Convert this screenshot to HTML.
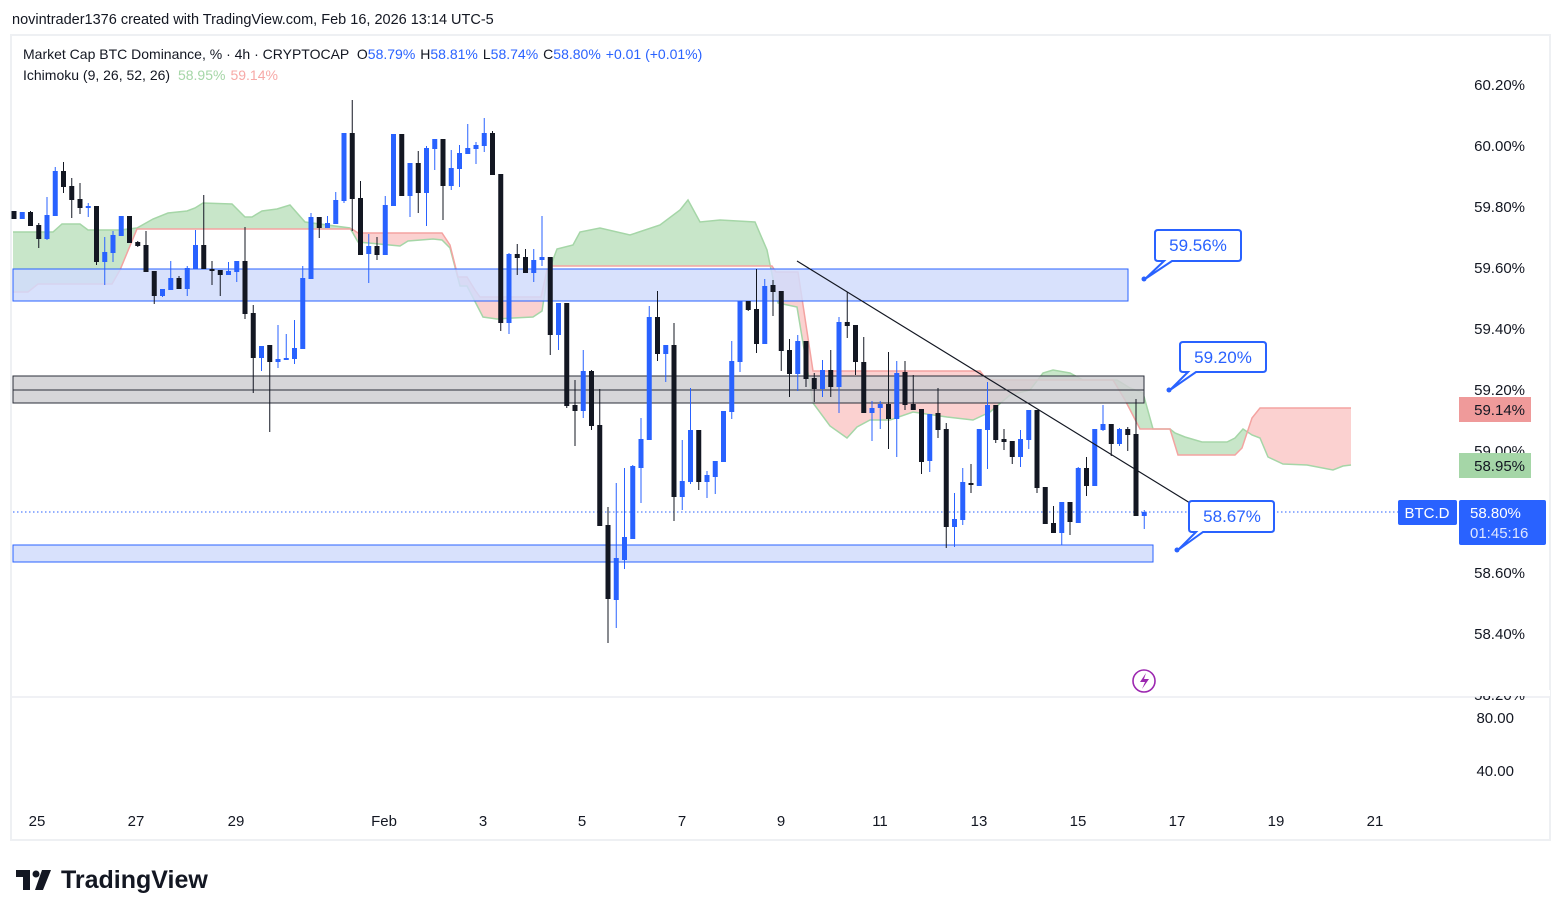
<!DOCTYPE html>
<html><head><meta charset="utf-8"><style>
html,body{margin:0;padding:0;background:#fff;}
svg{display:block;font-family:"Liberation Sans",sans-serif;}
</style></head><body>
<svg id="s" width="1563" height="916" viewBox="0 0 1563 916" xmlns="http://www.w3.org/2000/svg">
<defs>
<clipPath id="aboveB"><polygon id="cpB" points=""/></clipPath>
<clipPath id="aboveA"><polygon id="cpA" points=""/></clipPath>
</defs>
<rect x="0" y="0" width="1563" height="916" fill="#fff"/>
<text x="12" y="24" font-size="14.5" fill="#131722">novintrader1376 created with TradingView.com, Feb 16, 2026 13:14 UTC-5</text>
<rect x="11" y="35" width="1539" height="805" fill="none" stroke="#eef0f3" stroke-width="2"/>
<line x1="12" y1="697" x2="1549" y2="697" stroke="#e0e3eb" stroke-width="1"/>
<g id="cloud"></g>
<!-- zones -->
<rect x="13" y="269" width="1115" height="32" fill="#d1dcfb" fill-opacity="0.85" stroke="#2962ff" stroke-width="1"/>
<rect x="13" y="376" width="1131" height="27" fill="#cfcfd2" fill-opacity="0.85" stroke="#2a2e39" stroke-width="1"/>
<line x1="13" y1="390" x2="1144" y2="390" stroke="#2a2e39" stroke-width="1"/>
<rect x="13" y="545" width="1140" height="17" fill="#d1dcfb" fill-opacity="0.85" stroke="#2962ff" stroke-width="1"/>
<line x1="13" y1="512" x2="1457" y2="512" stroke="#2962ff" stroke-width="1" stroke-dasharray="1.5,2.5"/>
<g id="candles"></g>
<line x1="797" y1="261" x2="1190" y2="503" stroke="#131722" stroke-width="1.2"/>
<!-- callouts -->
<g fill="#fff" stroke="#2962ff" stroke-width="2">
<path d="M1158,230 H1238 Q1241,230 1241,233 V258 Q1241,261 1238,261 H1172 L1145,279 L1164,261 H1158 Q1155,261 1155,258 V233 Q1155,230 1158,230 Z"/>
<path d="M1183,342 H1263 Q1266,342 1266,345 V369 Q1266,372 1263,372 H1196 L1170,390 L1188,372 H1183 Q1180,372 1180,369 V345 Q1180,342 1183,342 Z"/>
<path d="M1192,501 H1271 Q1274,501 1274,504 V529 Q1274,532 1271,532 H1203 L1178,550 L1196,532 H1192 Q1189,532 1189,529 V504 Q1189,501 1192,501 Z"/>
</g>
<g fill="#2962ff"><circle cx="1144" cy="279" r="2.5"/><circle cx="1169" cy="390" r="2.5"/><circle cx="1177" cy="550" r="2.5"/></g>
<g font-size="17" fill="#2962ff" text-anchor="middle">
<text x="1198" y="251">59.56%</text><text x="1223" y="363">59.20%</text><text x="1232" y="522">58.67%</text>
</g>
<!-- legend -->
<text x="23" y="59" font-size="14" fill="#131722">Market Cap BTC Dominance, % · 4h · CRYPTOCAP <tspan dx="4">O</tspan><tspan fill="#2962ff">58.79%</tspan><tspan dx="5">H</tspan><tspan fill="#2962ff">58.81%</tspan><tspan dx="5">L</tspan><tspan fill="#2962ff">58.74%</tspan><tspan dx="5">C</tspan><tspan fill="#2962ff">58.80%</tspan><tspan dx="5" fill="#2962ff">+0.01 (+0.01%)</tspan></text>
<text x="23" y="80" font-size="14" fill="#131722">Ichimoku (9, 26, 52, 26) <tspan dx="4" fill="#a5d6a7">58.95%</tspan><tspan dx="5" fill="#f7a9a7">59.14%</tspan></text>
<!-- y axis -->
<g font-size="15" fill="#131722" text-anchor="end">
<text x="1525" y="90">60.20%</text><text x="1525" y="151">60.00%</text><text x="1525" y="212">59.80%</text>
<text x="1525" y="273">59.60%</text><text x="1525" y="334">59.40%</text><text x="1525" y="395">59.20%</text>
<text x="1525" y="456">59.00%</text><text x="1525" y="578">58.60%</text><text x="1525" y="639">58.40%</text>
<text x="1525" y="700">58.20%</text><text x="1514" y="723">80.00</text><text x="1514" y="776">40.00</text>
</g>
<rect x="1458" y="690" width="92" height="6" fill="#fff"/>
<rect x="1459" y="397" width="72" height="25" fill="#ef9a9a"/>
<text x="1525" y="415" font-size="15" fill="#131722" text-anchor="end">59.14%</text>
<rect x="1459" y="453" width="72" height="25" fill="#a5d6a7"/>
<text x="1525" y="471" font-size="15" fill="#131722" text-anchor="end">58.95%</text>
<rect x="1398" y="500" width="59" height="25" rx="2" fill="#2962ff"/>
<text x="1427" y="518" font-size="15" fill="#fff" text-anchor="middle">BTC.D</text>
<rect x="1459" y="500" width="87" height="45" rx="2" fill="#2962ff"/>
<text x="1470" y="518" font-size="15" fill="#fff">58.80%</text>
<text x="1470" y="538" font-size="15" fill="#dfe6ff">01:45:16</text>
<!-- x axis -->
<g font-size="15" fill="#131722" text-anchor="middle">
<text x="37" y="826">25</text><text x="136" y="826">27</text><text x="236" y="826">29</text>
<text x="384" y="826">Feb</text><text x="483" y="826">3</text><text x="582" y="826">5</text>
<text x="682" y="826">7</text><text x="781" y="826">9</text><text x="880" y="826">11</text>
<text x="979" y="826">13</text><text x="1078" y="826">15</text><text x="1177" y="826">17</text>
<text x="1276" y="826">19</text><text x="1375" y="826">21</text>
</g>
<circle cx="1144" cy="681" r="11" fill="none" stroke="#9c27b0" stroke-width="1.6"/>
<path d="M1146,673 L1140,682 H1145 L1142,689 L1149,679 H1144 Z" fill="#9c27b0"/>
<!-- logo -->
<g fill="#131722"><path d="M16,870 H30 V890 H23 V877 H16 Z"/><circle cx="36" cy="874" r="3.5"/><path d="M42,870 H51 L43,890 H35 Z"/></g>
<text x="61" y="888" font-size="25" font-weight="bold" fill="#131722">TradingView</text>
</svg>
<script>
var A=[[13,232],[53,232],[62,224],[80,224],[88,230],[120,230],[137,228],[153,219],[168,213],[187,211],[195,208],[203,203],[232,204],[245,217],[252,217],[262,211],[277,209],[290,205],[305,222],[350,228],[358,242],[400,246],[408,241],[433,239],[442,240],[450,248],[460,286],[467,286],[483,317],[497,319],[513,318],[533,317],[542,311],[548,273],[557,249],[573,245],[580,232],[600,228],[630,235],[660,225],[680,210],[688,200],[700,222],[720,220],[755,222],[767,250],[778,303],[797,307],[813,403],[830,426],[847,438],[857,427],[870,420],[890,420],[913,412],[947,417],[973,420],[990,412],[1010,395],[1030,390],[1043,373],[1053,370],[1070,373],[1083,380],[1117,380],[1130,388],[1143,393],[1153,429],[1170,429],[1175,433],[1185,437],[1202,442],[1227,442],[1235,438],[1243,429],[1252,435],[1260,438],[1268,457],[1283,464],[1307,465],[1333,470],[1343,466],[1351,465]];
var B=[[13,292],[28,292],[38,284],[112,284],[120,270],[137,229],[352,229],[358,233],[442,233],[450,245],[458,277],[467,277],[475,290],[480,297],[541,297],[547,270],[552,266],[772,266],[776,272],[798,272],[813,371],[980,371],[987,380],[1113,380],[1125,400],[1140,429],[1170,429],[1178,455],[1235,455],[1242,448],[1252,418],[1260,408],[1351,408]];
function pts(a){return a.map(function(p){return p[0]+','+p[1]}).join(' ');}
function above(a){return pts(a)+' 1351,0 13,0';}
function below(a){return pts(a)+' 1351,700 13,700';}
document.getElementById('cpB').setAttribute('points',above(B));
document.getElementById('cpA').setAttribute('points',above(A));
var c='';
c+='<polygon points="'+below(A)+'" fill="#c8e6c9" clip-path="url(#aboveB)"/>';
c+='<polygon points="'+below(B)+'" fill="#fbd1d0" clip-path="url(#aboveA)"/>';
c+='<polyline points="'+pts(A)+'" fill="none" stroke="#a5d6a7" stroke-width="1.5"/>';
c+='<polyline points="'+pts(B)+'" fill="none" stroke="#f4a3a1" stroke-width="1.5"/>';
document.getElementById('cloud').innerHTML=c;
var D="k 211,219,211,219|b 212,219,212,219|k 212,226,211,226|k 225,239,223,248|b 215,239,197,240|b 171,216,167,216|k 171,187,162,193|k 186,200,178,218|k 199,208,183,214|b 206,207,203,217|k 206,262,206,265|b 252,262,237,285|b 235,253,231,262|b 216,236,216,236|k 216,243,216,243|k 242,246,241,247|k 245,272,231,272|k 271,296,271,304|b 289,296,289,297|b 278,290,261,290|k 278,289,276,289|b 268,289,266,296|b 245,269,230,269|k 245,269,195,269|k 269,270,261,285|k 270,275,270,296|b 271,275,262,275|b 261,272,261,282|k 261,314,227,319|k 313,358,305,393|b 346,358,346,371|k 345,362,345,432|b 359,362,325,368|b 358,360,334,360|b 348,359,320,364|b 278,349,266,349|b 217,279,213,279|k 217,228,217,238|b 223,228,216,228|b 200,224,192,224|b 133,201,133,203|k 133,199,100,231|k 198,255,181,255|b 246,254,234,283|k 246,255,237,260|b 205,255,196,255|b 134,206,134,206|k 134,196,134,196|b 163,196,163,217|k 163,193,151,213|b 148,193,146,226|b 139,149,139,170|k 139,186,139,220|b 168,186,150,190|b 153,169,145,187|b 148,154,124,154|b 145,149,142,164|b 133,146,118,152|k 133,175,131,175|k 174,323,174,331|b 254,323,253,334|k 254,258,244,275|k 257,273,249,273|b 260,273,249,282|b 257,260,216,266|k 257,335,257,355|b 303,335,303,350|k 303,406,303,408|k 405,411,380,446|b 371,411,350,418|k 371,426,370,430|k 425,526,389,526|k 525,599,507,643|b 558,600,483,628|b 537,560,468,569|b 466,539,465,539|b 439,468,418,503|b 317,440,306,440|k 317,354,291,361|b 345,354,345,382|k 345,497,323,521|b 481,497,440,510|b 430,482,388,484|k 430,482,430,490|b 475,482,471,498|b 461,477,461,494|b 411,462,411,462|b 361,412,341,419|b 301,362,301,372|k 301,310,301,311|k 309,344,269,353|b 286,344,279,344|k 285,292,280,316|k 291,351,291,371|k 350,374,339,397|b 341,374,335,391|k 341,379,341,387|k 378,389,373,402|b 370,389,360,397|k 370,387,350,397|b 322,387,317,413|k 322,326,292,338|k 325,362,325,375|k 362,413,337,413|b 408,413,401,441|b 404,408,401,429|k 404,419,352,449|b 373,419,361,457|k 372,405,361,410|k 404,410,375,410|k 409,462,409,474|b 414,461,414,472|k 413,430,388,438|k 429,527,423,548|b 519,527,493,547|b 482,520,468,525|k 483,485,464,493|b 429,486,429,486|b 405,430,382,469|k 405,440,405,443|k 439,442,429,450|k 441,457,441,464|b 439,457,430,467|b 410,440,410,449|k 410,488,410,493|k 487,524,487,524|k 523,533,506,533|b 502,533,502,545|k 502,522,502,535|b 468,523,467,523|k 468,486,457,496|b 429,486,429,486|b 424,430,405,431|k 424,444,424,456|b 429,444,428,446|k 429,435,427,451|k 434,516,399,516|b 512,516,510,529".split('|');
var s='';
for(var i=0;i<D.length;i++){
 var col=D[i][0]=='b'?'#2962ff':'#131722';
 var v=D[i].slice(2).split(',').map(Number);
 var x=14+8.25*i;
 var h=Math.max(v[1]-v[0],2);
 s+='<line x1="'+x+'" y1="'+v[2]+'" x2="'+x+'" y2="'+v[3]+'" stroke="'+col+'" stroke-width="1"/>';
 s+='<rect x="'+(x-2.5)+'" y="'+v[0]+'" width="5" height="'+h+'" fill="'+col+'"/>';
}
document.getElementById('candles').innerHTML=s;
</script>
</body></html>
